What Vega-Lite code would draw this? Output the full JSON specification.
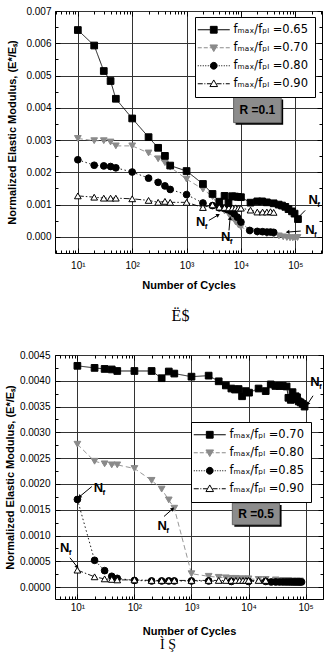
{
  "$schema": "https://vega.github.io/schema/vega-lite/v6.json",
  "padding": {"left": 3, "top": 5, "right": 0, "bottom": 0},
  "config": {
    "view": {"stroke": "black", "strokeWidth": 1},
    "font": "Liberation Sans",
    "axis": {"labelFont": "Liberation Sans", "labelFontSize": 10, "labelColor": "black", "titleFont": "Liberation Sans", "titleFontSize": 11, "titleFontWeight": "bold", "titleColor": "black", "gridColor": "#333", "gridWidth": 1, "tickColor": "black", "domain": false, "labelOverlap": false, "labelBound": false, "labelFlush": false}
  },
  "spacing": 24,
  "resolve": {"scale": {"color": "independent", "stroke": "independent", "shape": "independent", "fill": "independent", "strokeDash": "independent"}, "legend": {"shape": "independent", "fill": "independent", "stroke": "independent"}},
  "datasets": {
    "top": [
      {"N":10,"E":0.00305,"s":"0.70"},{"N":20,"E":0.00298,"s":"0.70"},{"N":30,"E":0.00298,"s":"0.70"},{"N":40,"E":0.00294,"s":"0.70"},{"N":50,"E":0.00282,"s":"0.70"},{"N":100,"E":0.00282,"s":"0.70"},{"N":200,"E":0.0026,"s":"0.70"},{"N":300,"E":0.00242,"s":"0.70"},{"N":400,"E":0.0023,"s":"0.70"},{"N":500,"E":0.00216,"s":"0.70"},{"N":1000,"E":0.00179,"s":"0.70"},{"N":2000,"E":0.00148,"s":"0.70"},{"N":3000,"E":0.00125,"s":"0.70"},{"N":4000,"E":0.00092,"s":"0.70"},{"N":5000,"E":0.0008,"s":"0.70"},{"N":6000,"E":0.0007,"s":"0.70"},{"N":7000,"E":0.00058,"s":"0.70"},{"N":8000,"E":0.00046,"s":"0.70"},{"N":9000,"E":0.00037,"s":"0.70"},{"N":10000,"E":0.00031,"s":"0.70"},{"N":15000,"E":0.00017,"s":"0.70"},{"N":20000,"E":0.00013,"s":"0.70"},{"N":30000,"E":0.0001,"s":"0.70"},{"N":40000,"E":0.00007,"s":"0.70"},{"N":50000,"E":0.00003,"s":"0.70"},{"N":60000,"E":0.0,"s":"0.70"},{"N":70000,"E":-0.00002,"s":"0.70"},{"N":80000,"E":-0.00003,"s":"0.70"},{"N":90000,"E":-0.00003,"s":"0.70"},{"N":100000,"E":-0.00003,"s":"0.70"},{"N":110000,"E":-0.00002,"s":"0.70"},
      {"N":10,"E":0.00239,"s":"0.80"},{"N":20,"E":0.00222,"s":"0.80"},{"N":30,"E":0.0022,"s":"0.80"},{"N":40,"E":0.00218,"s":"0.80"},{"N":50,"E":0.00214,"s":"0.80"},{"N":100,"E":0.00201,"s":"0.80"},{"N":200,"E":0.00182,"s":"0.80"},{"N":300,"E":0.00169,"s":"0.80"},{"N":400,"E":0.00158,"s":"0.80"},{"N":500,"E":0.00147,"s":"0.80"},{"N":1000,"E":0.00131,"s":"0.80"},{"N":2000,"E":0.00105,"s":"0.80"},{"N":3000,"E":0.00097,"s":"0.80"},{"N":4000,"E":0.0009,"s":"0.80"},{"N":4800,"E":0.00089,"s":"0.80"},{"N":5600,"E":0.00085,"s":"0.80"},{"N":6500,"E":0.0008,"s":"0.80"},{"N":7500,"E":0.00072,"s":"0.80"},{"N":8600,"E":0.00061,"s":"0.80"},{"N":10000,"E":0.00046,"s":"0.80"},{"N":14500,"E":0.0002,"s":"0.80"},{"N":20000,"E":0.00017,"s":"0.80"},{"N":25000,"E":0.00016,"s":"0.80"},{"N":30000,"E":0.00015,"s":"0.80"},{"N":35000,"E":0.00015,"s":"0.80"},{"N":40000,"E":0.00014,"s":"0.80"},
      {"N":10,"E":0.00127,"s":"0.90"},{"N":20,"E":0.00123,"s":"0.90"},{"N":30,"E":0.0012,"s":"0.90"},{"N":40,"E":0.0012,"s":"0.90"},{"N":50,"E":0.0012,"s":"0.90"},{"N":100,"E":0.00118,"s":"0.90"},{"N":200,"E":0.00113,"s":"0.90"},{"N":300,"E":0.00107,"s":"0.90"},{"N":400,"E":0.0011,"s":"0.90"},{"N":500,"E":0.00107,"s":"0.90"},{"N":1000,"E":0.00107,"s":"0.90"},{"N":2000,"E":0.00091,"s":"0.90"},{"N":3000,"E":0.00099,"s":"0.90"},{"N":4000,"E":0.00092,"s":"0.90"},{"N":5000,"E":0.00091,"s":"0.90"},{"N":6000,"E":0.0009,"s":"0.90"},{"N":7000,"E":0.0009,"s":"0.90"},{"N":8000,"E":0.0009,"s":"0.90"},{"N":9000,"E":0.00089,"s":"0.90"},{"N":10000,"E":0.00089,"s":"0.90"},{"N":15000,"E":0.00083,"s":"0.90"},{"N":20000,"E":0.00077,"s":"0.90"},{"N":25000,"E":0.00077,"s":"0.90"},{"N":30000,"E":0.00077,"s":"0.90"},{"N":35000,"E":0.00078,"s":"0.90"},{"N":40000,"E":0.00076,"s":"0.90"},
      {"N":10,"E":0.00641,"s":"0.65"},{"N":20,"E":0.00593,"s":"0.65"},{"N":30,"E":0.00514,"s":"0.65"},{"N":40,"E":0.00483,"s":"0.65"},{"N":50,"E":0.00428,"s":"0.65"},{"N":100,"E":0.00367,"s":"0.65"},{"N":200,"E":0.00309,"s":"0.65"},{"N":300,"E":0.00276,"s":"0.65"},{"N":400,"E":0.00251,"s":"0.65"},{"N":500,"E":0.00221,"s":"0.65"},{"N":1000,"E":0.00204,"s":"0.65"},{"N":2000,"E":0.00164,"s":"0.65"},{"N":3000,"E":0.00133,"s":"0.65"},{"N":4000,"E":0.00109,"s":"0.65"},{"N":5000,"E":0.00127,"s":"0.65"},{"N":5900,"E":0.00105,"s":"0.65"},{"N":6900,"E":0.00126,"s":"0.65"},{"N":7800,"E":0.00125,"s":"0.65"},{"N":8800,"E":0.00124,"s":"0.65"},{"N":10000,"E":0.00123,"s":"0.65"},{"N":15000,"E":0.00106,"s":"0.65"},{"N":20000,"E":0.0011,"s":"0.65"},{"N":24500,"E":0.0011,"s":"0.65"},{"N":30000,"E":0.00107,"s":"0.65"},{"N":40000,"E":0.00104,"s":"0.65"},{"N":49500,"E":0.001,"s":"0.65"},{"N":57000,"E":0.00097,"s":"0.65"},{"N":65600,"E":0.00093,"s":"0.65"},{"N":75000,"E":0.00086,"s":"0.65"},{"N":87000,"E":0.00079,"s":"0.65"},{"N":97000,"E":0.00072,"s":"0.65"},{"N":112000,"E":0.00055,"s":"0.65"}
    ],
    "bot": [
      {"N":10,"E":0.00277,"s":"0.80"},{"N":20,"E":0.00244,"s":"0.80"},{"N":30,"E":0.00239,"s":"0.80"},{"N":40,"E":0.00237,"s":"0.80"},{"N":50,"E":0.00237,"s":"0.80"},{"N":100,"E":0.0023,"s":"0.80"},{"N":200,"E":0.00207,"s":"0.80"},{"N":300,"E":0.0019,"s":"0.80"},{"N":400,"E":0.00169,"s":"0.80"},{"N":500,"E":0.00153,"s":"0.80"},{"N":1000,"E":0.00026,"s":"0.80"},{"N":2000,"E":0.00021,"s":"0.80"},{"N":3000,"E":0.00019,"s":"0.80"},{"N":4000,"E":0.00018,"s":"0.80"},{"N":5000,"E":0.00017,"s":"0.80"},{"N":6000,"E":0.00017,"s":"0.80"},{"N":7000,"E":0.00016,"s":"0.80"},{"N":8000,"E":0.00016,"s":"0.80"},{"N":9000,"E":0.00016,"s":"0.80"},{"N":10000,"E":0.00016,"s":"0.80"},{"N":15000,"E":0.00015,"s":"0.80"},{"N":20000,"E":0.00015,"s":"0.80"},{"N":30000,"E":0.00014,"s":"0.80"},{"N":40000,"E":0.00013,"s":"0.80"},{"N":50000,"E":0.00013,"s":"0.80"},{"N":60000,"E":0.00012,"s":"0.80"},{"N":70000,"E":0.00012,"s":"0.80"},{"N":80000,"E":0.00012,"s":"0.80"},
      {"N":10,"E":0.0017,"s":"0.85"},{"N":20,"E":0.00052,"s":"0.85"},{"N":30,"E":0.00032,"s":"0.85"},{"N":40,"E":0.00021,"s":"0.85"},{"N":50,"E":0.00017,"s":"0.85"},{"N":100,"E":0.00013,"s":"0.85"},{"N":200,"E":0.00012,"s":"0.85"},{"N":300,"E":0.00012,"s":"0.85"},{"N":400,"E":0.00012,"s":"0.85"},{"N":500,"E":0.00012,"s":"0.85"},{"N":1000,"E":0.00012,"s":"0.85"},{"N":2000,"E":0.00012,"s":"0.85"},{"N":5000,"E":0.00011,"s":"0.85"},{"N":10000,"E":0.00011,"s":"0.85"},{"N":20000,"E":0.00011,"s":"0.85"},{"N":25000,"E":0.0001,"s":"0.85"},{"N":30000,"E":0.0001,"s":"0.85"},{"N":35000,"E":0.0001,"s":"0.85"},{"N":40000,"E":0.0001,"s":"0.85"},{"N":45000,"E":0.0001,"s":"0.85"},{"N":50000,"E":0.0001,"s":"0.85"},{"N":55000,"E":0.0001,"s":"0.85"},{"N":60000,"E":0.0001,"s":"0.85"},{"N":65000,"E":0.0001,"s":"0.85"},{"N":70000,"E":0.0001,"s":"0.85"},{"N":75000,"E":0.0001,"s":"0.85"},{"N":80000,"E":0.0001,"s":"0.85"},{"N":85000,"E":0.0001,"s":"0.85"},
      {"N":10,"E":0.00033,"s":"0.90"},{"N":20,"E":0.0002,"s":"0.90"},{"N":30,"E":0.00016,"s":"0.90"},{"N":40,"E":0.00015,"s":"0.90"},{"N":50,"E":0.00014,"s":"0.90"},{"N":100,"E":0.00014,"s":"0.90"},{"N":200,"E":0.00013,"s":"0.90"},{"N":300,"E":0.00013,"s":"0.90"},{"N":400,"E":0.00013,"s":"0.90"},{"N":500,"E":0.00013,"s":"0.90"},{"N":1000,"E":0.00013,"s":"0.90"},{"N":2000,"E":0.00013,"s":"0.90"},{"N":3000,"E":0.00013,"s":"0.90"},{"N":4000,"E":0.00013,"s":"0.90"},{"N":5000,"E":0.00013,"s":"0.90"},{"N":6000,"E":0.00013,"s":"0.90"},{"N":7000,"E":0.00013,"s":"0.90"},{"N":8000,"E":0.00013,"s":"0.90"},{"N":9000,"E":0.00013,"s":"0.90"},{"N":10000,"E":0.00013,"s":"0.90"},{"N":15000,"E":0.00013,"s":"0.90"},{"N":20000,"E":0.00013,"s":"0.90"},
      {"N":10,"E":0.00429,"s":"0.70"},{"N":20,"E":0.00425,"s":"0.70"},{"N":30,"E":0.00423,"s":"0.70"},{"N":40,"E":0.00422,"s":"0.70"},{"N":50,"E":0.00419,"s":"0.70"},{"N":100,"E":0.00419,"s":"0.70"},{"N":200,"E":0.00419,"s":"0.70"},{"N":300,"E":0.00405,"s":"0.70"},{"N":400,"E":0.00418,"s":"0.70"},{"N":500,"E":0.00414,"s":"0.70"},{"N":1000,"E":0.00408,"s":"0.70"},{"N":2000,"E":0.0041,"s":"0.70"},{"N":3000,"E":0.00399,"s":"0.70"},{"N":4000,"E":0.00391,"s":"0.70"},{"N":5000,"E":0.00385,"s":"0.70"},{"N":5800,"E":0.00383,"s":"0.70"},{"N":6700,"E":0.00384,"s":"0.70"},{"N":7700,"E":0.0037,"s":"0.70"},{"N":8900,"E":0.0038,"s":"0.70"},{"N":10200,"E":0.00377,"s":"0.70"},{"N":15000,"E":0.00385,"s":"0.70"},{"N":20000,"E":0.0038,"s":"0.70"},{"N":24500,"E":0.00393,"s":"0.70"},{"N":29500,"E":0.0039,"s":"0.70"},{"N":35000,"E":0.0039,"s":"0.70"},{"N":40000,"E":0.0039,"s":"0.70"},{"N":46500,"E":0.00389,"s":"0.70"},{"N":50000,"E":0.00367,"s":"0.70"},{"N":55000,"E":0.00363,"s":"0.70"},{"N":59000,"E":0.00378,"s":"0.70"},{"N":63000,"E":0.00364,"s":"0.70"},{"N":67000,"E":0.0037,"s":"0.70"},{"N":71000,"E":0.00368,"s":"0.70"},{"N":76000,"E":0.0036,"s":"0.70"},{"N":82000,"E":0.00358,"s":"0.70"},{"N":89000,"E":0.00355,"s":"0.70"},{"N":96000,"E":0.0035,"s":"0.70"}
    ],
    "topLeg": [{"lab":"fₘₐₓ/fₚₗ =0.65"},{"lab":"fₘₐₓ/fₚₗ =0.70"},{"lab":"fₘₐₓ/fₚₗ =0.80"},{"lab":"fₘₐₓ/fₚₗ =0.90"}],
    "botLeg": [{"lab":"fₘₐₓ/fₚₗ =0.70"},{"lab":"fₘₐₓ/fₚₗ =0.80"},{"lab":"fₘₐₓ/fₚₗ =0.85"},{"lab":"fₘₐₓ/fₚₗ =0.90"}],
    "topNf": [{"x":214000,"y":0.00113},{"x":1820,"y":0.00046},{"x":5260,"y":0.0},{"x":186000,"y":0.0002}],
    "topArr": [{"x":152000,"y":0.00082,"x2":113000,"y2":0.0006},{"x":2570,"y":0.00051,"x2":3730,"y2":0.00067},{"x":6030,"y":0.0002,"x2":6300,"y2":0.00056},{"x":126000,"y":0.00018,"x2":74000,"y2":0.00015}],
    "botNf": [{"x":146000,"y":0.00397},{"x":23.5,"y":0.00192},{"x":307,"y":0.00118},{"x":6,"y":0.00076}],
    "botArr": [{"x":135000,"y":0.00371,"x2":110000,"y2":0.00356},{"x":17.9,"y":0.00195,"x2":11.1,"y2":0.00176},{"x":330,"y":0.00137,"x2":460,"y2":0.00151},{"x":7.4,"y":0.00057,"x2":9.8,"y2":0.0004}]
  },
  "vconcat": [
    {
      "width": 267, "height": 242,
      "title": {"text": "Ë$", "orient": "bottom", "font": "Liberation Serif", "fontSize": 16, "fontWeight": "normal", "color": "black", "offset": 18, "dx": -8},
      "resolve": {"axis": {"x": "independent", "y": "independent"}, "scale": {"shape": "independent", "fill": "independent", "stroke": "independent"}, "legend": {"shape": "independent", "fill": "independent", "stroke": "independent"}},
      "layer": [
        {
          "data": {"name": "top"},
          "mark": {"type": "line", "strokeWidth": 0.9},
          "encoding": {
            "x": {"field": "N", "type": "quantitative", "scale": {"type": "log", "domain": [3.8, 310000], "nice": false},
              "axis": {"orient": "bottom", "title": "Number of Cycles", "titlePadding": 7, "values": [4,5,6,7,8,9,10,20,30,40,50,60,70,80,90,100,200,300,400,500,600,700,800,900,1000,2000,3000,4000,5000,6000,7000,8000,9000,10000,20000,30000,40000,50000,60000,70000,80000,90000,100000,200000,300000],
                "labelExpr": "abs(log(datum.value)/LN10 - round(log(datum.value)/LN10)) < 0.001 ? '10' + ['⁰','¹','²','³','⁴','⁵','⁶'][round(log(datum.value)/LN10)] : ''",
                "grid": true, "gridOpacity": {"condition": {"test": "abs(log(datum.value)/LN10 - round(log(datum.value)/LN10)) < 0.001", "value": 1}, "value": 0},
                "tickSize": {"condition": {"test": "abs(log(datum.value)/LN10 - round(log(datum.value)/LN10)) < 0.001", "value": -5}, "value": -3},
                "labelPadding": 12}},
            "y": {"field": "E", "type": "quantitative", "scale": {"domain": [-0.0005, 0.007], "nice": false, "zero": false},
              "axis": {"orient": "left", "title": "Normalized Elastic Modulus, (E*/Eₛ)", "titlePadding": 8, "values": [0,0.0005,0.001,0.0015,0.002,0.0025,0.003,0.0035,0.004,0.0045,0.005,0.0055,0.006,0.0065,0.007],
                "labelExpr": "abs(datum.value*1000 - round(datum.value*1000)) < 0.001 ? format(datum.value, '.3f') : ''",
                "grid": true, "gridOpacity": {"condition": {"test": "abs(datum.value*1000 - round(datum.value*1000)) < 0.001", "value": 1}, "value": 0},
                "tickSize": {"condition": {"test": "abs(datum.value*1000 - round(datum.value*1000)) < 0.001", "value": -5}, "value": -3},
                "labelPadding": 9}},
            "color": {"field": "s", "type": "nominal", "scale": {"domain": ["0.65","0.70","0.80","0.90"], "range": ["black","#8a8a8a","black","black"]}, "legend": null},
            "strokeDash": {"field": "s", "type": "nominal", "scale": {"domain": ["0.65","0.70","0.80","0.90"], "range": [[1,0],[5,3],[1.5,2.5],[6,2,1.5,2]]}, "legend": null}
          }
        },
        {
          "data": {"name": "top"},
          "mark": {"type": "point", "size": 45, "strokeWidth": 1, "opacity": 1},
          "encoding": {
            "x": {"field": "N", "type": "quantitative", "axis": null},
            "y": {"field": "E", "type": "quantitative", "axis": null},
            "color": {"field": "s", "type": "nominal", "scale": {"domain": ["0.65","0.70","0.80","0.90"], "range": ["black","#8a8a8a","black","black"]}, "legend": null},
            "fill": {"field": "s", "type": "nominal", "scale": {"domain": ["0.65","0.70","0.80","0.90"], "range": ["black","#8a8a8a","black","white"]}, "legend": null},
            "shape": {"field": "s", "type": "nominal", "scale": {"domain": ["0.65","0.70","0.80","0.90"], "range": ["square","triangle-down","circle","triangle-up"]}, "legend": null}
          }
        },
        {
          "data": {"name": "top"},
          "mark": {"type": "point", "opacity": 0},
          "encoding": {
            "x": {"field": "N", "type": "quantitative",
              "axis": {"orient": "top", "title": null, "labels": false, "grid": false, "values": [4,5,6,7,8,9,10,20,30,40,50,60,70,80,90,100,200,300,400,500,600,700,800,900,1000,2000,3000,4000,5000,6000,7000,8000,9000,10000,20000,30000,40000,50000,60000,70000,80000,90000,100000,200000,300000],
                "tickSize": {"condition": {"test": "abs(log(datum.value)/LN10 - round(log(datum.value)/LN10)) < 0.001", "value": -5}, "value": -3}}},
            "y": {"field": "E", "type": "quantitative",
              "axis": {"orient": "right", "title": null, "labels": false, "grid": false, "values": [0,0.0005,0.001,0.0015,0.002,0.0025,0.003,0.0035,0.004,0.0045,0.005,0.0055,0.006,0.0065,0.007],
                "tickSize": {"condition": {"test": "abs(datum.value*1000 - round(datum.value*1000)) < 0.001", "value": -5}, "value": -3}}}
          }
        },
        {
          "data": {"values": [{}]},
          "mark": {"type": "rect", "fill": "black", "xOffset": 2, "x2Offset": 2, "yOffset": 2, "y2Offset": 2},
          "encoding": {"x": {"datum": 7330, "type": "quantitative", "axis": null}, "x2": {"datum": 55000}, "y": {"datum": 0.00432, "type": "quantitative", "axis": null}, "y2": {"datum": 0.00354}}
        },
        {
          "data": {"values": [{}]},
          "mark": {"type": "rect", "fill": "#8c8c8c", "stroke": "#666", "strokeWidth": 1},
          "encoding": {"x": {"datum": 7330, "type": "quantitative", "axis": null}, "x2": {"datum": 55000}, "y": {"datum": 0.00432, "type": "quantitative", "axis": null}, "y2": {"datum": 0.00354}}
        },
        {
          "data": {"values": [{}]},
          "mark": {"type": "text", "text": "R =0.1", "font": "Liberation Sans", "fontWeight": "bold", "fontSize": 12, "color": "black", "align": "center", "baseline": "middle"},
          "encoding": {"x": {"datum": 20000, "type": "quantitative", "axis": null}, "y": {"datum": 0.00393, "type": "quantitative", "axis": null}}
        },
        {
          "data": {"name": "topArr"},
          "mark": {"type": "rule", "color": "black", "strokeWidth": 1},
          "encoding": {"x": {"field": "x", "type": "quantitative", "axis": null}, "y": {"field": "y", "type": "quantitative", "axis": null}, "x2": {"field": "x2"}, "y2": {"field": "y2"}}
        },
        {"data": {"values": [{}]}, "mark": {"type": "point", "shape": "triangle", "angle": 225, "size": 18, "filled": true, "color": "black", "opacity": 1},
          "encoding": {"x": {"datum": 113000, "type": "quantitative", "axis": null}, "y": {"datum": 0.0006, "type": "quantitative", "axis": null}}},
        {"data": {"values": [{}]}, "mark": {"type": "point", "shape": "triangle", "angle": 59, "size": 18, "filled": true, "color": "black", "opacity": 1},
          "encoding": {"x": {"datum": 3730, "type": "quantitative", "axis": null}, "y": {"datum": 0.00067, "type": "quantitative", "axis": null}}},
        {"data": {"values": [{}]}, "mark": {"type": "point", "shape": "triangle", "angle": 5, "size": 18, "filled": true, "color": "black", "opacity": 1},
          "encoding": {"x": {"datum": 6300, "type": "quantitative", "axis": null}, "y": {"datum": 0.00056, "type": "quantitative", "axis": null}}},
        {"data": {"values": [{}]}, "mark": {"type": "point", "shape": "triangle", "angle": 265, "size": 18, "filled": true, "color": "black", "opacity": 1},
          "encoding": {"x": {"datum": 74000, "type": "quantitative", "axis": null}, "y": {"datum": 0.00015, "type": "quantitative", "axis": null}}},
        {
          "data": {"name": "topNf"},
          "mark": {"type": "text", "text": "N", "font": "Liberation Sans", "fontWeight": "bold", "fontSize": 13, "color": "black", "align": "center", "baseline": "middle"},
          "encoding": {"x": {"field": "x", "type": "quantitative", "axis": null}, "y": {"field": "y", "type": "quantitative", "axis": null}}
        },
        {
          "data": {"name": "topNf"},
          "mark": {"type": "text", "text": "f", "font": "Liberation Sans", "fontWeight": "bold", "fontSize": 8, "color": "black", "align": "left", "baseline": "middle", "dx": 4, "dy": 5},
          "encoding": {"x": {"field": "x", "type": "quantitative", "axis": null}, "y": {"field": "y", "type": "quantitative", "axis": null}}
        },
        {
          "data": {"name": "topLeg"},
          "mark": {"type": "point", "opacity": 0},
          "encoding": {
            "shape": {"field": "lab", "type": "nominal",
              "scale": {"domain": ["fₘₐₓ/fₚₗ =0.65","fₘₐₓ/fₚₗ =0.70","fₘₐₓ/fₚₗ =0.80","fₘₐₓ/fₚₗ =0.90"], "range": ["M-2.5,0H0.6M2.4,0H5.5M0.65,-0.85H2.35V0.85H0.65Z", "M-2.5,0H-1.5M-1,0H0M0.5,0H0.9M0.55,-0.7H2.45L1.5,0.95ZM2.1,0H2.5M3,0H4M4.5,0H5.5", "M-2.5,0H-2.25M-1.875,0H-1.625M-1.25,0H-1M-0.625,0H-0.375M0,0H0.25M0.65,0A0.85,0.85,0,1,0,2.35,0A0.85,0.85,0,1,0,0.65,0ZM2.75,0H3M3.375,0H3.625M4,0H4.25M4.625,0H4.875M5.25,0H5.5", "M-2.5,0H-1.25M-0.85,0H-0.6M-0.2,0H0.9M1.5,-0.95L2.45,0.7H0.55ZM2.2,0H3.45M3.85,0H4.1M4.5,0H5.5"]},
              "legend": {"orient": "none", "legendX": 140, "legendY": 6, "title": null, "fillColor": "white", "strokeColor": "black", "padding": 7, "rowPadding": 5,
                "labelFont": "DejaVu Sans", "labelFontSize": 11.5, "labelColor": "black", "symbolSize": 64, "labelOffset": 20, "symbolStrokeWidth": 1, "symbolOpacity": 1}},
            "fill": {"field": "lab", "type": "nominal", "scale": {"domain": ["fₘₐₓ/fₚₗ =0.65","fₘₐₓ/fₚₗ =0.70","fₘₐₓ/fₚₗ =0.80","fₘₐₓ/fₚₗ =0.90"], "range": ["black","#8a8a8a","black","white"]}},
            "stroke": {"field": "lab", "type": "nominal", "scale": {"domain": ["fₘₐₓ/fₚₗ =0.65","fₘₐₓ/fₚₗ =0.70","fₘₐₓ/fₚₗ =0.80","fₘₐₓ/fₚₗ =0.90"], "range": ["black","#8a8a8a","black","black"]}}
          }
        }
      ]
    },
    {
      "width": 268, "height": 244,
      "title": {"text": "Ì Ş", "orient": "bottom", "font": "Liberation Serif", "fontSize": 14, "fontWeight": "normal", "color": "black", "offset": 2, "dx": -21},
      "resolve": {"axis": {"x": "independent", "y": "independent"}, "scale": {"shape": "independent", "fill": "independent", "stroke": "independent"}, "legend": {"shape": "independent", "fill": "independent", "stroke": "independent"}},
      "layer": [
        {
          "data": {"name": "bot"},
          "mark": {"type": "line", "strokeWidth": 0.9},
          "encoding": {
            "x": {"field": "N", "type": "quantitative", "scale": {"type": "log", "domain": [4.05, 202000], "nice": false},
              "axis": {"orient": "bottom", "title": "Number of Cycles", "titlePadding": 11, "values": [5,6,7,8,9,10,20,30,40,50,60,70,80,90,100,200,300,400,500,600,700,800,900,1000,2000,3000,4000,5000,6000,7000,8000,9000,10000,20000,30000,40000,50000,60000,70000,80000,90000,100000,200000],
                "labelExpr": "abs(log(datum.value)/LN10 - round(log(datum.value)/LN10)) < 0.001 ? '10' + ['⁰','¹','²','³','⁴','⁵','⁶'][round(log(datum.value)/LN10)] : ''",
                "grid": true, "gridOpacity": {"condition": {"test": "abs(log(datum.value)/LN10 - round(log(datum.value)/LN10)) < 0.001", "value": 1}, "value": 0},
                "tickSize": {"condition": {"test": "abs(log(datum.value)/LN10 - round(log(datum.value)/LN10)) < 0.001", "value": -5}, "value": -3},
                "labelPadding": 8}},
            "y": {"field": "E", "type": "quantitative", "scale": {"domain": [-0.00023, 0.0045], "nice": false, "zero": false},
              "axis": {"orient": "left", "title": "Normalized Elastic Modulus, (E*/Eₛ)", "titlePadding": 4, "values": [0,0.00025,0.0005,0.00075,0.001,0.00125,0.0015,0.00175,0.002,0.00225,0.0025,0.00275,0.003,0.00325,0.0035,0.00375,0.004,0.00425,0.0045],
                "labelExpr": "abs(datum.value*2000 - round(datum.value*2000)) < 0.001 ? format(datum.value, '.4f') : ''",
                "grid": true, "gridOpacity": {"condition": {"test": "abs(datum.value*2000 - round(datum.value*2000)) < 0.001", "value": 1}, "value": 0},
                "tickSize": {"condition": {"test": "abs(datum.value*2000 - round(datum.value*2000)) < 0.001", "value": -5}, "value": -3},
                "labelPadding": 10}},
            "color": {"field": "s", "type": "nominal", "scale": {"domain": ["0.70","0.80","0.85","0.90"], "range": ["black","#8a8a8a","black","black"]}, "legend": null},
            "strokeDash": {"field": "s", "type": "nominal", "scale": {"domain": ["0.70","0.80","0.85","0.90"], "range": [[1,0],[5,3],[1.5,2.5],[6,2,1.5,2]]}, "legend": null}
          }
        },
        {
          "data": {"name": "bot"},
          "mark": {"type": "point", "size": 45, "strokeWidth": 1, "opacity": 1},
          "encoding": {
            "x": {"field": "N", "type": "quantitative", "axis": null},
            "y": {"field": "E", "type": "quantitative", "axis": null},
            "color": {"field": "s", "type": "nominal", "scale": {"domain": ["0.70","0.80","0.85","0.90"], "range": ["black","#8a8a8a","black","black"]}, "legend": null},
            "fill": {"field": "s", "type": "nominal", "scale": {"domain": ["0.70","0.80","0.85","0.90"], "range": ["black","#8a8a8a","black","white"]}, "legend": null},
            "shape": {"field": "s", "type": "nominal", "scale": {"domain": ["0.70","0.80","0.85","0.90"], "range": ["square","triangle-down","circle","triangle-up"]}, "legend": null}
          }
        },
        {
          "data": {"name": "bot"},
          "mark": {"type": "point", "opacity": 0},
          "encoding": {
            "x": {"field": "N", "type": "quantitative",
              "axis": {"orient": "top", "title": null, "labels": false, "grid": false, "values": [5,6,7,8,9,10,20,30,40,50,60,70,80,90,100,200,300,400,500,600,700,800,900,1000,2000,3000,4000,5000,6000,7000,8000,9000,10000,20000,30000,40000,50000,60000,70000,80000,90000,100000,200000],
                "tickSize": {"condition": {"test": "abs(log(datum.value)/LN10 - round(log(datum.value)/LN10)) < 0.001", "value": -5}, "value": -3}}},
            "y": {"field": "E", "type": "quantitative",
              "axis": {"orient": "right", "title": null, "labels": false, "grid": false, "values": [0,0.00025,0.0005,0.00075,0.001,0.00125,0.0015,0.00175,0.002,0.00225,0.0025,0.00275,0.003,0.00325,0.0035,0.00375,0.004,0.00425,0.0045],
                "tickSize": {"condition": {"test": "abs(datum.value*2000 - round(datum.value*2000)) < 0.001", "value": -5}, "value": -3}}}
          }
        },
        {
          "data": {"values": [{}]},
          "mark": {"type": "rect", "fill": "black", "xOffset": 2, "x2Offset": 2, "yOffset": 2, "y2Offset": 2},
          "encoding": {"x": {"datum": 5200, "type": "quantitative", "axis": null}, "x2": {"datum": 35000}, "y": {"datum": 0.00163, "type": "quantitative", "axis": null}, "y2": {"datum": 0.00121}}
        },
        {
          "data": {"values": [{}]},
          "mark": {"type": "rect", "fill": "#8c8c8c", "stroke": "#666", "strokeWidth": 1},
          "encoding": {"x": {"datum": 5200, "type": "quantitative", "axis": null}, "x2": {"datum": 35000}, "y": {"datum": 0.00163, "type": "quantitative", "axis": null}, "y2": {"datum": 0.00121}}
        },
        {
          "data": {"values": [{}]},
          "mark": {"type": "text", "text": "R =0.5", "font": "Liberation Sans", "fontWeight": "bold", "fontSize": 12, "color": "black", "align": "center", "baseline": "middle"},
          "encoding": {"x": {"datum": 13500, "type": "quantitative", "axis": null}, "y": {"datum": 0.00142, "type": "quantitative", "axis": null}}
        },
        {
          "data": {"name": "botArr"},
          "mark": {"type": "rule", "color": "black", "strokeWidth": 1},
          "encoding": {"x": {"field": "x", "type": "quantitative", "axis": null}, "y": {"field": "y", "type": "quantitative", "axis": null}, "x2": {"field": "x2"}, "y2": {"field": "y2"}}
        },
        {"data": {"values": [{}]}, "mark": {"type": "point", "shape": "triangle", "angle": 213, "size": 18, "filled": true, "color": "black", "opacity": 1},
          "encoding": {"x": {"datum": 110000, "type": "quantitative", "axis": null}, "y": {"datum": 0.00356, "type": "quantitative", "axis": null}}},
        {"data": {"values": [{}]}, "mark": {"type": "point", "shape": "triangle", "angle": 229, "size": 18, "filled": true, "color": "black", "opacity": 1},
          "encoding": {"x": {"datum": 11.1, "type": "quantitative", "axis": null}, "y": {"datum": 0.00176, "type": "quantitative", "axis": null}}},
        {"data": {"values": [{}]}, "mark": {"type": "point", "shape": "triangle", "angle": 48, "size": 18, "filled": true, "color": "black", "opacity": 1},
          "encoding": {"x": {"datum": 460, "type": "quantitative", "axis": null}, "y": {"datum": 0.00151, "type": "quantitative", "axis": null}}},
        {"data": {"values": [{}]}, "mark": {"type": "point", "shape": "triangle", "angle": 144, "size": 18, "filled": true, "color": "black", "opacity": 1},
          "encoding": {"x": {"datum": 9.8, "type": "quantitative", "axis": null}, "y": {"datum": 0.0004, "type": "quantitative", "axis": null}}},
        {
          "data": {"name": "botNf"},
          "mark": {"type": "text", "text": "N", "font": "Liberation Sans", "fontWeight": "bold", "fontSize": 13, "color": "black", "align": "center", "baseline": "middle"},
          "encoding": {"x": {"field": "x", "type": "quantitative", "axis": null}, "y": {"field": "y", "type": "quantitative", "axis": null}}
        },
        {
          "data": {"name": "botNf"},
          "mark": {"type": "text", "text": "f", "font": "Liberation Sans", "fontWeight": "bold", "fontSize": 8, "color": "black", "align": "left", "baseline": "middle", "dx": 4, "dy": 5},
          "encoding": {"x": {"field": "x", "type": "quantitative", "axis": null}, "y": {"field": "y", "type": "quantitative", "axis": null}}
        },
        {
          "data": {"name": "botLeg"},
          "mark": {"type": "point", "opacity": 0},
          "encoding": {
            "shape": {"field": "lab", "type": "nominal",
              "scale": {"domain": ["fₘₐₓ/fₚₗ =0.70","fₘₐₓ/fₚₗ =0.80","fₘₐₓ/fₚₗ =0.85","fₘₐₓ/fₚₗ =0.90"], "range": ["M-2.5,0H0.6M2.4,0H5.5M0.65,-0.85H2.35V0.85H0.65Z", "M-2.5,0H-1.5M-1,0H0M0.5,0H0.9M0.55,-0.7H2.45L1.5,0.95ZM2.1,0H2.5M3,0H4M4.5,0H5.5", "M-2.5,0H-2.25M-1.875,0H-1.625M-1.25,0H-1M-0.625,0H-0.375M0,0H0.25M0.65,0A0.85,0.85,0,1,0,2.35,0A0.85,0.85,0,1,0,0.65,0ZM2.75,0H3M3.375,0H3.625M4,0H4.25M4.625,0H4.875M5.25,0H5.5", "M-2.5,0H-1.25M-0.85,0H-0.6M-0.2,0H0.9M1.5,-0.95L2.45,0.7H0.55ZM2.2,0H3.45M3.85,0H4.1M4.5,0H5.5"]},
              "legend": {"orient": "none", "legendX": 136, "legendY": 67, "title": null, "fillColor": "white", "strokeColor": "black", "padding": 7, "rowPadding": 5,
                "labelFont": "DejaVu Sans", "labelFontSize": 11.5, "labelColor": "black", "symbolSize": 64, "labelOffset": 20, "symbolStrokeWidth": 1, "symbolOpacity": 1}},
            "fill": {"field": "lab", "type": "nominal", "scale": {"domain": ["fₘₐₓ/fₚₗ =0.70","fₘₐₓ/fₚₗ =0.80","fₘₐₓ/fₚₗ =0.85","fₘₐₓ/fₚₗ =0.90"], "range": ["black","#8a8a8a","black","white"]}},
            "stroke": {"field": "lab", "type": "nominal", "scale": {"domain": ["fₘₐₓ/fₚₗ =0.70","fₘₐₓ/fₚₗ =0.80","fₘₐₓ/fₚₗ =0.85","fₘₐₓ/fₚₗ =0.90"], "range": ["black","#8a8a8a","black","black"]}}
          }
        }
      ]
    }
  ]
}
